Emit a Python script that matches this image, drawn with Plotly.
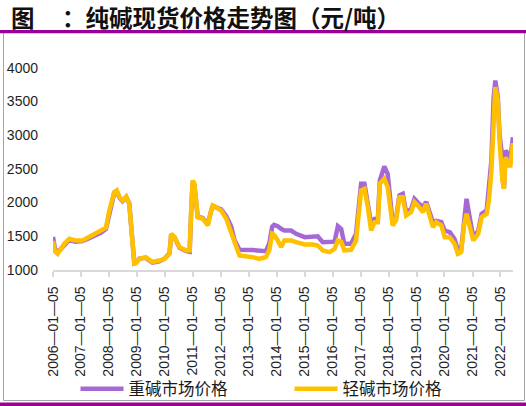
import plotly.graph_objects as go

dates = [
    "2006-01-05", "2006-01-30", "2006-03-07", "2006-06-02", "2006-08-07", "2006-10-19",
    "2007-01-26", "2007-04-23", "2007-07-20", "2007-09-20", "2007-11-28",
    "2008-01-11", "2008-02-02", "2008-03-14", "2008-04-16", "2008-05-22", "2008-07-01",
    "2008-08-18", "2008-09-27", "2008-11-06", "2008-12-02", "2008-12-24",
    "2009-02-06", "2009-04-30", "2009-07-27", "2009-10-23",
    "2010-01-05", "2010-03-07", "2010-03-29", "2010-05-11", "2010-07-16", "2010-10-12",
    "2010-11-25", "2010-12-16",
    "2011-01-03", "2011-01-26", "2011-02-16", "2011-03-10", "2011-05-15", "2011-07-20",
    "2011-09-02", "2011-09-23", "2011-11-06",
    "2012-01-11", "2012-03-17", "2012-05-19", "2012-07-01", "2012-09-05",
    "2013-02-27", "2013-05-22", "2013-08-18", "2013-10-01", "2013-11-06", "2013-12-02",
    "2014-01-18", "2014-03-03", "2014-04-16", "2014-07-12", "2014-09-16",
    "2015-01-05", "2015-04-20", "2015-06-24", "2015-08-29", "2015-11-25",
    "2016-01-30", "2016-03-14", "2016-04-26", "2016-06-05", "2016-09-02", "2016-11-06",
    "2017-01-11", "2017-02-24", "2017-04-09", "2017-05-22", "2017-07-05", "2017-08-18",
    "2017-09-13", "2017-11-10", "2017-12-24",
    "2018-02-06", "2018-02-27", "2018-04-12", "2018-05-26", "2018-07-09", "2018-08-22",
    "2018-10-26", "2018-12-09",
    "2019-01-22", "2019-03-29", "2019-05-11", "2019-06-24", "2019-08-07", "2019-09-20",
    "2019-11-25",
    "2020-01-08", "2020-03-14", "2020-05-15", "2020-06-28", "2020-08-11", "2020-09-13",
    "2020-10-19", "2020-11-25",
    "2021-01-15", "2021-03-21", "2021-05-04", "2021-07-09", "2021-08-07", "2021-09-09",
    "2021-10-08", "2021-10-30", "2021-12-02", "2021-12-24",
    "2022-01-30", "2022-02-20", "2022-03-14", "2022-04-12", "2022-05-15", "2022-06-17",
]

heavy = [
    1490, 1320, 1260, 1380, 1450, 1420,
    1430, 1470, 1520, 1550, 1610,
    1860, 1960, 2140, 2170, 2070, 2020,
    2080, 1990, 1500, 1100, 1110,
    1170, 1180, 1110, 1130,
    1170, 1250, 1530, 1480, 1330, 1280,
    1270, 1900,
    2300, 2250, 2050, 1790, 1770, 1680,
    1880, 1950, 1930,
    1900, 1800, 1650, 1450, 1300,
    1295, 1289, 1280, 1400, 1640, 1670,
    1650, 1610, 1585, 1585, 1537,
    1487, 1490, 1500, 1413, 1413,
    1420, 1650, 1610, 1389, 1389, 1537,
    2279, 2279, 1982, 1685, 1758, 1758,
    2328, 2536, 2427,
    1880, 1710, 1760, 2105, 2130, 1858,
    1900, 2055,
    2000, 1930, 2010, 1830, 1710, 1730,
    1710,
    1585, 1560, 1460, 1290, 1310, 1734,
    2055, 1808,
    1487, 1580, 1833, 1883, 2180, 2625,
    3560, 3811, 3560, 3000,
    2674, 2205, 2773, 2700, 2650, 2970,
]

light = [
    1430, 1280, 1240, 1389, 1463, 1438,
    1438, 1487, 1546, 1575, 1626,
    1883, 1982, 2154, 2180, 2080, 2031,
    2090, 1982, 1500, 1096, 1100,
    1166, 1190, 1116, 1140,
    1166, 1240, 1537, 1487, 1338, 1290,
    1290, 1932,
    2328, 2280, 2080, 1783, 1760, 1660,
    1883, 1957, 1932,
    1880, 1760, 1561, 1389, 1215,
    1190, 1166, 1190, 1300, 1537, 1520,
    1438, 1340, 1438, 1438, 1413,
    1378, 1378, 1364, 1290, 1265,
    1315, 1438, 1420, 1290, 1300, 1438,
    2180, 2205, 1932, 1586, 1710, 1710,
    2279, 2353, 2230,
    1783, 1660, 1734, 2080, 2080, 1808,
    1858, 2006,
    1957, 1858, 1982, 1783, 1635, 1710,
    1660,
    1487, 1487, 1389, 1240, 1265, 1635,
    1833, 1635,
    1438, 1537, 1783, 1833, 2031, 2476,
    3416, 3712, 3514, 2921,
    2328, 2205, 2674, 2550, 2550, 2880,
]

tick_dates = [
    "2006-01-05", "2007-01-05", "2008-01-05", "2009-01-05", "2010-01-05", "2011-01-05",
    "2012-01-05", "2013-01-05", "2014-01-05", "2015-01-05", "2016-01-05", "2017-01-05",
    "2018-01-05", "2019-01-05", "2020-01-05", "2021-01-05", "2022-01-05",
]
tick_labels = [
    "2006—01—05", "2007—01—05", "2008—01—05", "2009—01—05", "2010—01—05", "2011—01—05",
    "2012—01—05", "2013—01—05", "2014—01—05", "2015—01—05", "2016—01—05", "2017—01—05",
    "2018—01—05", "2019—01—05", "2020—01—05", "2021—01—05", "2022—01—05",
]
y_ticks = [1000, 1500, 2000, 2500, 3000, 3500, 4000]

series_names = ["重碱市场价格", "轻碱市场价格"]
title_head = "图"
title_rest = "：纯碱现货价格走势图（元/吨）"

W, H = 526, 406
ML, MR, MT, MB = 53, 13, 34, 136
PW, PH = W - ML - MR, H - MT - MB


def px(x):
    return (x - ML) / PW


def py(y):
    return (H - MB - y) / PH


PURPLE = "#a569d6"
YELLOW = "#ffc000"

fig = go.Figure()
fig.add_trace(go.Scatter(x=dates, y=heavy, mode="lines", name=series_names[0],
                         line=dict(color=PURPLE, width=4.5)))
fig.add_trace(go.Scatter(x=dates, y=light, mode="lines", name=series_names[1],
                         line=dict(color=YELLOW, width=4.5)))

fig.update_layout(
    width=W, height=H,
    margin=dict(l=ML, r=MR, t=MT, b=MB, autoexpand=False),
    paper_bgcolor="white", plot_bgcolor="white",
    showlegend=True,
    legend=dict(
        orientation="h", xref="container", yref="container",
        x=75.5 / W, y=(H - 389) / H, xanchor="left", yanchor="middle",
        itemwidth=43, entrywidth=156, entrywidthmode="pixels",
        font=dict(family="Noto Sans CJK SC", size=16.5, color="#1a1a1a"),
        bgcolor="rgba(0,0,0,0)", tracegroupgap=0,
    ),
    xaxis=dict(
        type="date", range=["2006-01-05", "2022-06-18"],
        tickvals=tick_dates, ticktext=tick_labels, tickangle=-90,
        showgrid=False, zeroline=False,
        showline=True, linecolor="#d9d9d9", linewidth=1.5,
        ticks="outside", ticklen=5, tickwidth=1.5, tickcolor="#d9d9d9",
        tickfont=dict(family="Liberation Sans, Arial", size=14, color="#1f1f1f"),
        ticklabelstandoff=4,
    ),
    yaxis=dict(
        range=[1000, 4500], tickvals=y_ticks,
        showgrid=False, zeroline=False, showline=False, ticks="",
        tickfont=dict(family="Liberation Sans, Arial", size=14, color="#1f1f1f"),
        ticklabelstandoff=14,
    ),
    shapes=[
        dict(type="rect", xref="paper", yref="paper",
             x0=px(3.5), x1=px(524.5), y0=py(400.5), y1=py(32.5),
             line=dict(color="#a6a6a6", width=1), fillcolor="rgba(0,0,0,0)", layer="below"),
        dict(type="rect", xref="paper", yref="paper",
             x0=px(0), x1=px(W), y0=py(33.2), y1=py(30),
             line=dict(width=0), fillcolor="#990099"),
        dict(type="rect", xref="paper", yref="paper",
             x0=px(0), x1=px(W), y0=py(406), y1=py(402.5),
             line=dict(width=0), fillcolor="#990099"),
    ],
    annotations=[
        dict(text=f"<b>{title_head}</b>", xref="paper", yref="paper",
             x=px(9), y=py(16.5), xanchor="left", yanchor="middle", showarrow=False,
             font=dict(family="Noto Sans CJK SC", size=23.5, color="#111111")),
        dict(text=f"<b>{title_rest}</b>", xref="paper", yref="paper",
             x=px(60), y=py(16.5), xanchor="left", yanchor="middle", showarrow=False,
             font=dict(family="Noto Sans CJK SC", size=23.5, color="#111111")),
    ],
)

fig.write_html("out.html")
